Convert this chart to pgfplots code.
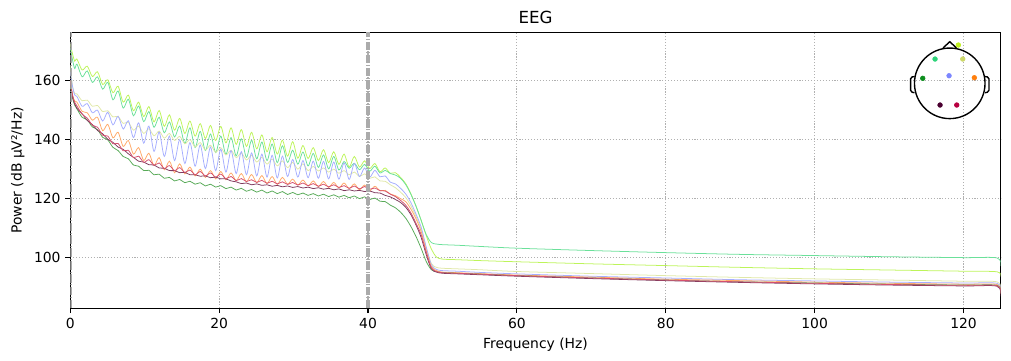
\documentclass[border=0pt]{standalone}
\usepackage{fontspec}
\setmainfont{DejaVu Sans}
\usepackage{pgfplots}
\usepackage{pgfplotstable}
\pgfplotsset{compat=1.18}
\definecolor{cY}{HTML}{BDF45A}
\definecolor{cM}{HTML}{6BE09A}
\definecolor{cB}{HTML}{A6AEFF}
\definecolor{cP}{HTML}{E0E8A8}
\definecolor{cO}{HTML}{FFAA6A}
\definecolor{cR}{HTML}{D4506E}
\definecolor{cD}{HTML}{7E3A5E}
\definecolor{cG}{HTML}{58AA58}
\definecolor{sY}{HTML}{C0F020}
\definecolor{sP}{HTML}{CDD86A}
\definecolor{sM}{HTML}{2ED47A}
\definecolor{sG}{HTML}{0E8E1E}
\definecolor{sB}{HTML}{7C86FF}
\definecolor{sO}{HTML}{FF7F0E}
\definecolor{sD}{HTML}{4A0030}
\definecolor{sR}{HTML}{B80040}
\definecolor{gridc}{HTML}{B0B0B0}
\definecolor{filtc}{HTML}{ABABAB}

\pgfplotstableread{
x Y M B P O R D G
0 172.4 171.0 163.0 165.0 160.0 160.0 159.5 158.0
0.3 169.0 167.0 158.0 158.0 155.0 155.0 154.5 154.0
0.6 166.5 164.0 155.0 155.5 153.0 152.5 152.0 151.5
0.90 167.2 165.5 154.5 155.4 152.6 151.3 150.5 150.3
1.59 163.5 161.2 151.2 153.1 149.5 148.5 148.7 147.5
2.28 164.8 163.2 152.1 153.3 149.0 147.2 146.4 146.6
2.97 161.3 159.3 149.0 151.2 146.5 144.8 145.0 144.2
3.66 162.9 161.2 149.9 151.5 147.5 144.1 143.0 143.3
4.35 158.6 157.0 146.2 149.4 142.9 141.4 141.9 140.7
5.04 160.2 159.3 149.2 149.7 145.1 141.1 140.0 139.8
5.73 155.8 153.4 144.9 147.6 140.5 138.5 139.0 137.3
6.42 158.0 156.4 147.8 147.8 142.4 138.6 137.4 136.2
7.11 152.6 150.6 143.5 145.4 137.6 136.1 136.6 134.2
7.80 155.0 153.6 146.3 145.8 139.6 136.3 135.1 133.4
8.49 149.7 148.0 140.6 143.1 135.0 133.8 133.9 131.3
9.18 152.6 151.3 145.6 144.5 137.2 134.3 132.6 130.9
9.87 147.7 146.0 138.7 142.0 132.8 132.2 132.3 129.4
10.56 151.1 149.4 144.5 143.6 135.3 133.1 131.4 129.5
11.25 145.9 144.1 135.9 141.2 131.1 131.2 131.3 128.0
11.94 149.8 147.5 142.5 142.8 133.8 132.0 130.3 128.2
12.63 144.4 142.2 134.2 140.4 129.7 130.1 130.2 126.8
13.32 148.3 145.9 141.1 142.0 132.6 131.1 129.4 127.1
14.01 143.1 140.8 132.8 139.6 128.7 129.4 129.4 125.9
14.70 147.1 144.5 139.9 141.0 131.7 130.4 128.7 126.4
15.39 142.0 138.6 131.8 138.5 128.3 128.8 128.8 125.3
16.08 146.2 143.9 138.9 139.9 130.6 129.6 128.0 125.8
16.77 141.1 137.2 130.9 137.4 127.6 128.0 128.0 124.8
17.46 145.3 142.7 138.1 138.9 129.9 129.1 127.5 125.3
18.15 140.3 136.2 130.1 136.4 127.1 127.6 127.6 124.2
18.84 144.7 141.8 137.4 138.0 129.4 128.6 127.0 124.8
19.53 139.6 135.5 129.4 135.6 126.6 127.2 127.2 123.8
20.22 144.4 141.1 136.7 137.2 129.1 128.2 126.6 124.3
20.91 138.8 134.9 128.9 134.7 126.3 126.7 126.6 123.3
21.60 143.9 140.6 136.2 136.3 128.6 127.4 125.9 123.8
22.29 138.3 134.4 128.4 133.8 126.0 126.0 125.6 122.8
22.98 143.3 140.2 135.8 135.4 128.4 126.7 125.0 123.4
23.67 137.6 133.9 128.0 133.0 125.6 125.7 125.2 122.4
24.36 142.4 139.7 135.4 134.6 128.1 126.3 124.6 123.0
25.05 136.8 133.4 127.6 132.3 125.3 125.4 124.9 122.1
25.74 141.5 139.1 135.0 133.9 127.7 126.1 124.4 122.8
26.43 135.8 132.8 127.2 131.6 125.0 125.1 124.6 121.8
27.12 140.6 138.4 134.6 133.3 127.4 125.8 124.1 122.5
27.81 135.0 132.1 126.9 131.0 124.7 124.9 124.4 121.6
28.50 139.7 137.8 134.3 132.7 127.1 125.6 123.9 122.3
29.19 134.3 132.2 127.4 130.4 124.8 124.7 124.2 121.3
29.88 139.2 136.3 133.2 132.2 126.5 125.4 123.7 122.0
30.57 133.6 131.6 127.2 129.9 124.5 124.5 124.0 121.2
31.26 137.9 135.7 132.8 131.7 126.2 125.2 123.5 121.8
31.95 133.5 131.0 127.0 129.4 124.2 124.3 123.8 121.0
32.64 137.2 135.2 132.6 130.8 125.9 125.0 123.3 121.6
33.33 132.8 130.5 126.8 129.3 124.0 124.1 123.6 120.8
34.02 136.5 134.7 132.5 130.3 125.7 124.8 123.1 121.4
34.71 132.1 130.0 126.6 128.9 123.7 123.9 123.4 120.6
35.40 135.8 134.2 132.3 129.9 125.4 124.6 122.9 121.2
36.09 131.5 129.6 126.5 128.5 123.5 123.7 123.2 120.4
36.78 135.0 132.5 132.0 129.4 125.2 124.3 122.6 121.0
37.47 130.6 130.2 126.4 128.0 123.3 123.4 122.9 120.2
38.16 134.2 131.9 131.8 128.9 124.9 124.2 122.5 120.8
38.85 130.6 129.7 127.4 127.4 122.9 123.2 122.7 119.9
39.54 132.7 131.5 130.3 128.3 124.5 124.0 122.3 120.5
40.23 130.1 129.2 127.2 126.8 122.6 123.1 122.5 119.6
40.92 131.8 130.9 129.5 127.3 124.1 123.5 121.9 120.1
41.61 129.0 128.6 127.3 125.9 122.6 122.6 121.8 119.0
42.30 130.3 129.5 127.6 125.8 122.7 122.5 121.0 118.9
42.99 128.5 128.4 125.5 124.6 121.5 121.4 120.5 117.7
43.68 128.7 127.9 124.9 123.6 120.9 120.6 119.6 116.8
44.37 127.1 126.8 123.4 122.1 119.9 119.3 118.6 115.3
45.06 125.0 124.7 121.5 120.3 118.9 117.7 117.0 113.3
45.75 121.6 121.4 118.6 117.5 116.4 115.1 114.5 110.5
46.44 117.4 117.4 114.7 113.9 113.1 111.6 111.0 107.1
47.13 112.6 112.6 110.3 109.5 108.8 107.7 106.8 103.1
47.82 107.4 107.7 103.5 103.3 102.3 101.7 100.9 98.6
48.51 102.8 105.0 97.5 97.9 96.9 96.5 96.1 95.8
49.20 100.1 104.5 95.9 96.6 95.5 95.2 95.0 95.1
50 99.4 104.3 95.5 96.3 95.0 94.8 94.6 94.8
52 99.2 104.1 95.3 96.1 94.8 94.6 94.4 94.6
55 98.9 103.7 94.9 95.8 94.5 94.3 94.1 94.3
60 98.5 103.1 94.4 95.2 94.0 93.8 93.6 93.8
70 97.8 102.3 93.6 94.5 93.3 93.0 92.8 93.0
80 97.2 101.6 93.0 93.8 92.6 92.3 92.1 92.3
90 96.6 101.0 92.4 93.2 92.1 91.7 91.5 91.7
100 96.1 100.6 92.0 92.7 91.6 91.2 91.0 91.3
110 95.7 100.2 91.6 92.3 91.2 90.8 90.6 90.9
120 95.3 99.9 91.3 91.9 90.9 90.5 90.3 90.6
124.5 95.1 99.8 91.2 91.7 90.8 90.4 90.2 90.5
125 93.5 97.0 88.5 89.0 88.0 87.5 86.8 87.8
}\psd

\begin{document}
\begin{tikzpicture}
\path[use as bounding box] (-50.6bp,-37.9bp) rectangle (677.3bp,222.0bp);
\begin{axis}[
  at={(0,0)}, anchor=south west,
  scale only axis, width=669.9bp, height=198.7bp,
  xmin=0, xmax=125, ymin=82.71, ymax=176.27,
  xtick={0,20,40,60,80,100,120}, ytick={100,120,140,160},
  tick align=outside, xtick pos=bottom, ytick pos=left,
  major tick length=3.5bp,
  every tick/.style={black, line width=0.8bp},
  axis line style={line width=0.8bp},
  grid=major,
  major grid style={gridc, line width=0.8bp, dash pattern=on 0.8bp off 1.3bp},
  ticklabel style={font=\fontsize{10bp}{12bp}\selectfont},
  /pgf/number format/assume math mode=true,
  title={EEG},
  title style={font=\fontsize{12bp}{14bp}\selectfont, yshift=-3.5bp},
  xlabel={Frequency (Hz)}, ylabel={Power (dB µV²/Hz)},
  label style={font=\fontsize{10bp}{12bp}\selectfont},
  every axis plot/.append style={line width=0.55bp, smooth, mark=none},
]
\addplot[cY] table[x=x,y=Y]{\psd};
\addplot[cM] table[x=x,y=M]{\psd};
\addplot[cP] table[x=x,y=P]{\psd};
\addplot[cB] table[x=x,y=B]{\psd};
\addplot[cO] table[x=x,y=O]{\psd};
\addplot[cG] table[x=x,y=G]{\psd};
\addplot[cD] table[x=x,y=D]{\psd};
\addplot[cR] table[x=x,y=R]{\psd};
\addplot[filtc, line width=2.2bp, sharp plot, dash pattern=on 6bp off 1.4bp on 0.5bp off 1.4bp] coordinates {(40,82.71) (40,176.27)};
\addplot[filtc, line width=2.2bp, sharp plot, dash pattern=on 6bp off 1.4bp on 0.5bp off 1.4bp] coordinates {(0,82.71) (0,176.27)};
\end{axis}
\begin{axis}[
  at={(633.2bp,162bp)}, anchor=center,
  scale only axis, width=64.8bp, height=64.8bp,
  xmin=-45, xmax=45, ymin=-45, ymax=45,
  hide axis, clip=false,
]
\draw[black, line width=1bp] (axis cs:0,0) circle [radius=25.4bp];
\addplot[black, line width=1bp, mark=none] coordinates {(-6.7,35.4) (0,41.6) (6.7,35.4)};
\addplot[black, line width=1bp, mark=none, rounded corners=1.2bp] coordinates {(-35.1,6.8) (-39.2,6.2) (-39.2,-8.6) (-35.3,-9.4)};
\addplot[black, line width=1bp, mark=none, rounded corners=1.2bp] coordinates {(35.1,6.8) (39.2,6.2) (39.2,-8.6) (35.3,-9.4)};
\addplot[only marks, mark=*, mark size=1.7bp, sY, mark options={draw=none, fill=sY}] coordinates {(8.6,38.3)};
\addplot[only marks, mark=*, mark size=1.7bp, sP, mark options={draw=none, fill=sP}] coordinates {(13,24.3)};
\addplot[only marks, mark=*, mark size=1.7bp, sM, mark options={draw=none, fill=sM}] coordinates {(-14.7,24.3)};
\addplot[only marks, mark=*, mark size=1.7bp, sG, mark options={draw=none, fill=sG}] coordinates {(-27,5)};
\addplot[only marks, mark=*, mark size=1.7bp, sB, mark options={draw=none, fill=sB}] coordinates {(-0.7,7.6)};
\addplot[only marks, mark=*, mark size=1.7bp, sO, mark options={draw=none, fill=sO}] coordinates {(24.6,5.6)};
\addplot[only marks, mark=*, mark size=1.7bp, sD, mark options={draw=none, fill=sD}] coordinates {(-9.7,-21.7)};
\addplot[only marks, mark=*, mark size=1.7bp, sR, mark options={draw=none, fill=sR}] coordinates {(7,-21.7)};
\end{axis}
\end{tikzpicture}
\end{document}
